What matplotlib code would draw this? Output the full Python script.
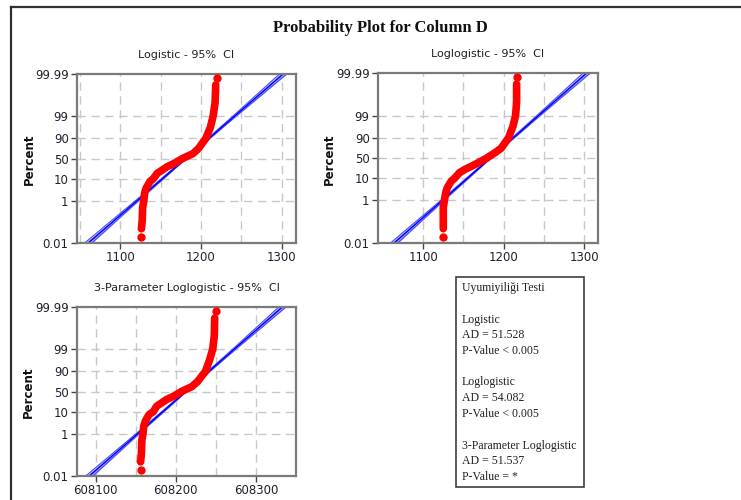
import matplotlib.pyplot as plt
from matplotlib.patches import Rectangle
from matplotlib.lines import Line2D
from matplotlib.ticker import NullLocator
import math


# --- data ----------------------------------------------------------------

# percent ticks on the probability (logit) axis
pct_ticks = [0.01, 1, 10, 50, 90, 99, 99.99]
pct_tick_labels = ["0.01", "1", "10", "50", "90", "99", "99.99"]

# red points: percent (plotting position) and value, first/last are the lone dots
logistic_pct = [0.019, 0.047, 0.114, 0.47, 1, 2.3, 3.9, 7.6, 10, 16.8, 22.2,
                29, 37, 50, 63, 74.5, 90, 96.8, 99, 99.77, 99.967, 99.985]
logistic_val = [1126, 1126, 1127, 1127.5, 1129, 1130, 1132, 1136.7, 1140.8,
                1145.8, 1152, 1158, 1166.7, 1177, 1190, 1196.7, 1206, 1211.7,
                1215, 1217.5, 1218.3, 1220]

loglogistic_pct = logistic_pct
loglogistic_val = [1125, 1125, 1125, 1125, 1126.4, 1128, 1130, 1135, 1139,
                   1145, 1151.5, 1160, 1168, 1179, 1188.5, 1197, 1206, 1211.4,
                   1214.7, 1216, 1216, 1216]

threep_pct = logistic_pct
threep_val = [608156, 608156, 608157, 608157.5, 608159, 608160, 608162,
              608166.7, 608172, 608176, 608182, 608188, 608196.7, 608207,
              608220, 608227, 608237, 608242, 608246, 608248, 608248.5,
              608249.6]

# fitted line (ends at 0.01 % and 99.99 %) and 95% CI half widths
fit_pct = [0.01, 99.99]
logistic_fit = [1060, 1302]
loglogistic_fit = [1064, 1303]
threep_fit = [608092, 608333]
ci_pct = [0.01, 1, 50, 99, 99.99]
ci_half = [4.5, 2.0, 1.0, 2.0, 4.5]

panel_titles = ["Logistic - 95%  CI", "Loglogistic - 95%  CI",
                "3-Parameter Loglogistic - 95%  CI"]
panel_xticks = [[1100, 1200, 1300], [1100, 1200, 1300],
                [608100, 608200, 608300]]
panel_xgrid = [[1050, 1100, 1150, 1200, 1250, 1300],
               [1100, 1150, 1200, 1250, 1300],
               [608100, 608150, 608200, 608250, 608300]]
panel_xlim = [(1046, 1318), (1044, 1317), (608076.6, 608350)]

gof_lines = ["Uyumiyiliği Testi", "", "Logistic", "AD = 51.528",
             "P-Value < 0.005", "", "Loglogistic", "AD = 54.082",
             "P-Value < 0.005", "", "3-Parameter Loglogistic",
             "AD = 51.537", "P-Value = *"]

W, H = 741, 500


def fx(px):
    return px / W


def fy(py):
    return 1 - py / H


def interp_logit(pcts, xs, p):
    # straight-line position on the logit axis between read points
    lg = lambda q: math.log(q / (100 - q))
    for i in range(len(pcts) - 1):
        if pcts[i] <= p <= pcts[i + 1]:
            t = (lg(p) - lg(pcts[i])) / (lg(pcts[i + 1]) - lg(pcts[i]))
            return xs[i] + t * (xs[i + 1] - xs[i])
    return xs[-1]


def draw_panel(ax, pct, val, fit, xticks, xgrid, xlim):
    ax.set_yscale("logit")
    ax.set_ylim(0.0001, 0.9999)
    ax.set_xlim(*xlim)

    for g in xgrid:
        ax.axvline(g, color="#c8c8c8", lw=1, ls=(0, (6, 4)), zorder=0)
    for t in pct_ticks[1:-1]:
        ax.axhline(t / 100, color="#c8c8c8", lw=1, ls=(0, (6, 4)), zorder=0)

    # CI band
    mid = [interp_logit(fit_pct, fit, p) for p in ci_pct]
    lo = [m - h for m, h in zip(mid, ci_half)]
    hi = [m + h for m, h in zip(mid, ci_half)]
    yy = [p / 100 for p in ci_pct]
    ax.fill_betweenx(yy, lo, hi, color="#a8a8ff", lw=0, zorder=1)
    ax.plot(lo, yy, color="#4a4aff", lw=0.8, zorder=2)
    ax.plot(hi, yy, color="#4a4aff", lw=0.8, zorder=2)
    ax.plot(fit, [p / 100 for p in fit_pct], color="#0000ee", lw=1.0, zorder=2)

    # data points
    yv = [p / 100 for p in pct]
    ax.plot(val[1:-1], yv[1:-1], color="#ff0000", lw=5.5,
            solid_capstyle="round", solid_joinstyle="round", zorder=3)
    ax.plot([val[0], val[-1]], [yv[0], yv[-1]], "o", color="#ff0000",
            ms=5, mec="#ff0000", zorder=3)

    ax.set_yticks([p / 100 for p in pct_ticks])
    ax.set_yticklabels(pct_tick_labels)
    ax.yaxis.set_minor_locator(NullLocator())
    ax.set_xticks(xticks)
    ax.set_xticklabels([str(x) for x in xticks])
    ax.tick_params(labelsize=8.5, length=4, width=1, color="#444444",
                   labelcolor="#202030", pad=2)
    for s in ax.spines.values():
        s.set_color("#7a7a7a")
        s.set_linewidth(1.6)


fig = plt.figure(figsize=(7.41, 5.0), dpi=100)

# outer frame (top and left edges visible)
fig.add_artist(Line2D([fx(11), 1], [fy(7), fy(7)], color="#303030", lw=1.6))
fig.add_artist(Line2D([fx(11), fx(11)], [fy(7), 0], color="#303030", lw=1.6))

fig.text(fx(380), fy(28), "Probability Plot for Column D",
         family="Liberation Serif", weight="bold", fontsize=12,
         ha="center", va="center", color="#111111")

boxes = [(77, 296, 74, 243), (378, 598, 73, 243), (77, 296, 307, 476)]
datasets = [(logistic_pct, logistic_val, logistic_fit),
            (loglogistic_pct, loglogistic_val, loglogistic_fit),
            (threep_pct, threep_val, threep_fit)]
label_x = [29, 329, 28]

for i, (l, r, t, b) in enumerate(boxes):
    ax = fig.add_axes([fx(l), fy(b), (r - l) / W, (b - t) / H])
    pct, val, fit = datasets[i]
    draw_panel(ax, pct, val, fit, panel_xticks[i], panel_xgrid[i],
               panel_xlim[i])
    fig.text(fx((l + r) / 2), fy(t - 19), panel_titles[i], fontsize=8,
             ha="center", va="center", color="#202020")
    fig.text(fx(label_x[i]), fy((t + b) / 2 + 1), "Percent", fontsize=8.5,
             weight="bold", rotation=90, ha="center", va="center",
             color="#111111")

# goodness of fit box
fig.add_artist(Rectangle((fx(456), fy(487)), (584 - 456) / W, (487 - 277) / H,
                         fill=False, edgecolor="#404040", lw=1.2))
for k, line in enumerate(gof_lines):
    fig.text(fx(462), fy(288 + k * 15.75), line, family="Liberation Serif",
             fontsize=8.5, ha="left", va="center", color="#202020")

fig.savefig("out.png", dpi=100)
